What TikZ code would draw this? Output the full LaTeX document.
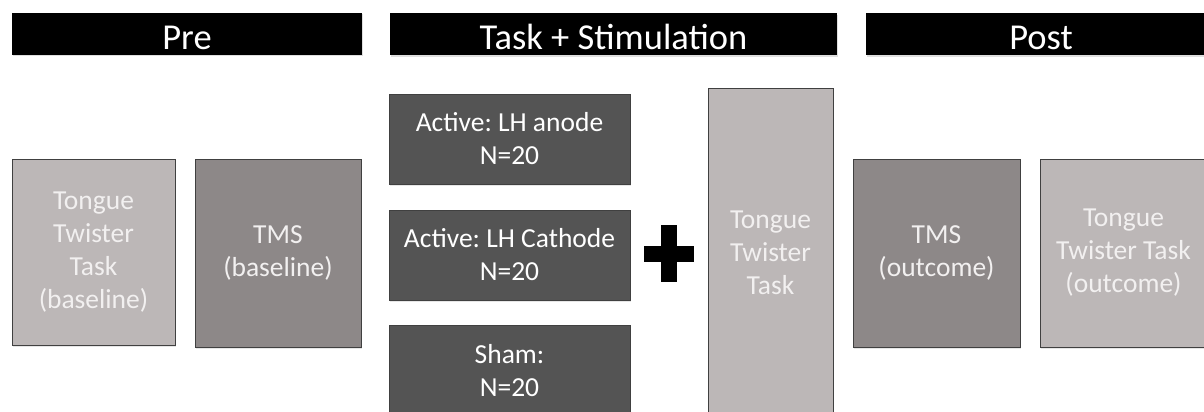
\documentclass[tikz,border=0pt]{standalone}
\usepackage{fontspec}
\setmainfont{Carlito}
\usetikzlibrary{shadows}
\frenchspacing

\definecolor{lightbox}{HTML}{BCB7B7}
\definecolor{midbox}{HTML}{8D8888}
\definecolor{darkbox}{HTML}{545454}
\definecolor{paletext}{HTML}{F2F0F0}

\begin{document}
\begin{tikzpicture}[x=1pt,y=-1pt,
        header/.style={fill=black,text=white,minimum height=42pt,
            font=\fontsize{36.5}{40}\selectfont,inner sep=0pt,
            text height=30pt,text depth=0pt,
            drop shadow={opacity=0.25,shadow xshift=1pt,shadow yshift=-1.5pt}},
        box/.style={draw=black!75,line width=0.9pt,align=center,inner sep=0pt,
            font=\fontsize{27.5}{33}\selectfont,
            drop shadow={opacity=0.2,shadow xshift=1pt,shadow yshift=-1.5pt}}]
    \useasboundingbox (0,0) rectangle (1204,412);
    \clip (0,0) rectangle (1204,412);

    % phase headers
    \begin{scope}
        \node[header,minimum width=350pt] (pre) at (187,34) {Pre};
        \node[header,minimum width=447pt] (stim) at (613.5,34.5) {Task + Stimulation};
        \node[header,minimum width=350pt] (post) at (1041,34.5) {Post};
    \end{scope}

    % pre
    \begin{scope}[every node/.append style={box}]
        \node[fill=lightbox,text=paletext,minimum width=163pt,minimum height=186pt]
            (tttpre) at (93.5,252) {Tongue\\Twister\\Task\\(baseline)};
        \node[fill=midbox,text=paletext,minimum width=166pt,minimum height=188pt]
            (tmspre) at (278,253) {TMS\\(baseline)};
    \end{scope}

    % task + stimulation
    \begin{scope}[every node/.append style={box,fill=darkbox,text=white,
                minimum width=241pt,minimum height=90pt}]
        \node (anode) at (509.5,139) {Active: LH anode\\N=20};
        \node (cathode) at (509.5,255) {Active: LH Cathode\\N=20};
        \node[minimum height=92pt] (sham) at (509.5,371) {Sham:\\N=20};
    \end{scope}

    \coordinate (plus) at (669,253.5);
    \fill[black] ([xshift=-25pt,yshift=-8pt]plus) rectangle ([xshift=25pt,yshift=8pt]plus);
    \fill[black] ([xshift=-8pt,yshift=-28.5pt]plus) rectangle ([xshift=8pt,yshift=28.5pt]plus);

    \node[box,fill=lightbox,text=paletext,minimum width=125pt,minimum height=330pt]
        (tttmid) at (770.5,253) {Tongue\\Twister\\Task};

    % post
    \begin{scope}[every node/.append style={box}]
        \node[fill=midbox,text=paletext,minimum width=167pt,minimum height=188pt]
            (tmspost) at (936.5,253) {TMS\\(outcome)};
        \node[fill=lightbox,text=paletext,minimum width=167pt,minimum height=188pt]
            (tttpost) at (1123.5,253) {Tongue\\Twister Task\\(outcome)};
    \end{scope}
\end{tikzpicture}
\end{document}
